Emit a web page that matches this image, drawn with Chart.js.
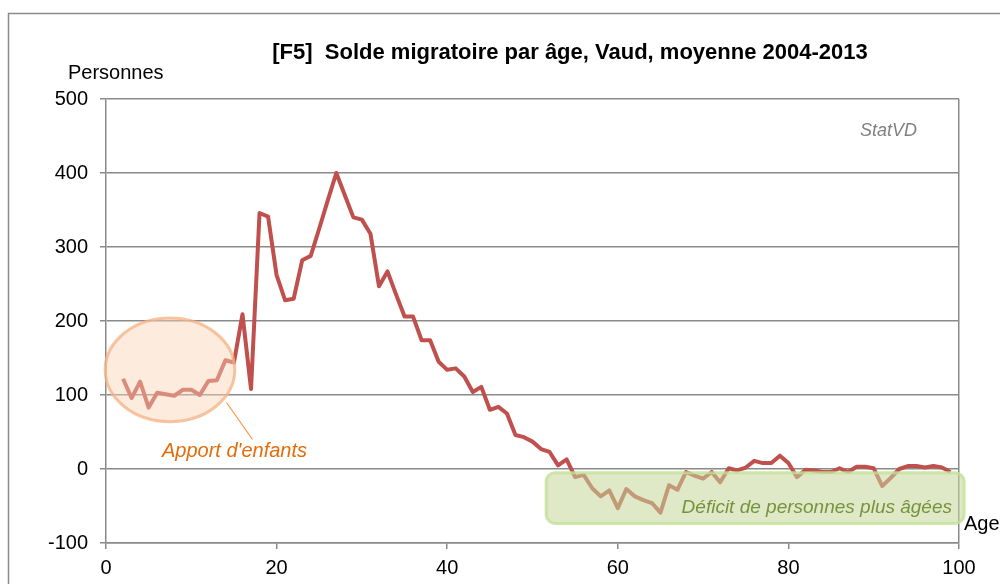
<!DOCTYPE html>
<html>
<head>
<meta charset="utf-8">
<script src="https://cdn.jsdelivr.net/npm/chart.js@4.4.1/dist/chart.umd.min.js"></script>
<style>
html, body { margin: 0; padding: 0; background: #fff; }
</style>
</head>
<body>
<canvas id="chart" width="1000" height="584"></canvas>
<script>
/* solde migratoire moyen par age, Vaud 2004-2013 */
var ages = [2, 3, 4, 5, 6, 7, 8, 9, 10, 11, 12, 13, 14, 15, 16, 17, 18, 19, 20, 21,
    22, 23, 24, 25, 26, 27, 28, 29, 30, 31, 32, 33, 34, 35, 36, 37, 38, 39, 40, 41,
    42, 43, 44, 45, 46, 47, 48, 49, 50, 51, 52, 53, 54, 55, 56, 57, 58, 59, 60, 61,
    62, 63, 64, 65, 66, 67, 68, 69, 70, 71, 72, 73, 74, 75, 76, 77, 78, 79, 80, 81,
    82, 83, 84, 85, 86, 87, 88, 89, 90, 91, 92, 93, 94, 95, 96, 97, 98, 99];
var solde = [122, 96, 118, 83, 103, 101, 99, 107, 107, 100, 119, 120, 147, 144, 209, 108, 346, 341, 262, 228,
    230, 282, 288, 325, 363, 400, 370, 340, 337, 318, 247, 267, 236, 206, 206, 174, 174, 145, 134, 136,
    125, 104, 111, 80, 84, 75, 46, 43, 37, 27, 23, 5, 13, -11, -8, -26, -37, -29, -53, -27,
    -37, -42, -46, -59, -22, -28, -4, -9, -13, -4, -18, 1, -2, 2, 11, 8, 8, 18, 8, -11,
    -1, -2, -4, -4, 1, -4, 3, 3, 1, -23, -12, 0, 4, 4, 2, 4, 2, -4];
var xTicks = [0, 20, 40, 60, 80, 100];
var yTicks = [-100, 0, 100, 200, 300, 400, 500];

var FONT = '"Liberation Sans", Arial, sans-serif';
var GRID = '#8a8a8a';

var points = ages.map(function (a, i) {
    return {x: a, y: solde[i]};
});

var decor = {
    id: 'decor',
    beforeDraw: function (chart) {
        var c = chart.ctx;
        c.save();
        c.fillStyle = '#fff';
        c.fillRect(0, 0, chart.width, chart.height);
        // outer frame
        c.strokeStyle = GRID;
        c.lineWidth = 1.5;
        c.strokeRect(8.5, 13.5, 1200, 800);

        c.fillStyle = '#000';
        c.font = 'bold 22px ' + FONT;
        c.textAlign = 'center';
        c.textBaseline = 'alphabetic';
        c.fillText('[F5]  Solde migratoire par âge, Vaud, moyenne 2004-2013', 570, 59);

        c.font = '20px ' + FONT;
        c.textAlign = 'left';
        c.fillText('Personnes', 68, 79);
        c.fillText('Age', 964, 530);

        c.fillStyle = '#808080';
        c.font = 'italic 18px ' + FONT;
        c.textAlign = 'right';
        c.fillText('StatVD', 917, 136);
        c.restore();
    },
    afterDatasetsDraw: function (chart) {
        var c = chart.ctx;
        var xs = chart.scales.x, ys = chart.scales.y;
        c.save();

        // ellipse "Apport d'enfants"
        var cx = xs.getPixelForValue(7.5), cy = ys.getPixelForValue(134);
        var rx = xs.getPixelForValue(7.5 + 7.6) - cx;
        var ry = cy - ys.getPixelForValue(134 + 70);
        c.beginPath();
        c.ellipse(cx, cy, rx, ry, 0, 0, Math.PI * 2);
        c.fillStyle = 'rgba(250, 210, 180, 0.45)';
        c.fill();
        c.lineWidth = 3;
        c.strokeStyle = 'rgba(244, 177, 131, 0.75)';
        c.stroke();

        c.beginPath();
        c.moveTo(226.5, 402.5);
        c.lineTo(252.5, 439.5);
        c.lineWidth = 1.2;
        c.strokeStyle = '#f79646';
        c.stroke();

        c.fillStyle = '#e46c0a';
        c.font = 'italic 20px ' + FONT;
        c.textAlign = 'left';
        c.fillText("Apport d'enfants", 162, 457);

        // box "Deficit"
        var x1 = xs.getPixelForValue(51.6), x2 = xs.getPixelForValue(100.6);
        var y1 = ys.getPixelForValue(-5), y2 = ys.getPixelForValue(-73.5);
        c.beginPath();
        c.roundRect(x1, y1, x2 - x1, y2 - y1, 9);
        c.fillStyle = 'rgba(196, 215, 155, 0.55)';
        c.fill();
        c.lineWidth = 3;
        c.strokeStyle = 'rgba(195, 225, 150, 0.8)';
        c.stroke();

        c.fillStyle = '#77933c';
        c.font = 'italic 19px ' + FONT;
        c.textAlign = 'right';
        c.fillText('Déficit de personnes plus âgées', 952, 513);
        c.restore();
    }
};

var config = {
    type: 'line',
    data: {
        datasets: [{
            label: 'Solde migratoire',
            data: points,
            borderColor: '#c0504d',
            borderWidth: 4,
            borderJoinStyle: 'round',
            pointRadius: 0,
            tension: 0,
            fill: false
        }]
    },
    options: {
        responsive: false,
        animation: false,
        devicePixelRatio: 1,
        layout: {
            padding: {left: 0, top: 99, right: 41, bottom: 0}
        },
        plugins: {
            legend: {display: false},
            tooltip: {enabled: false},
            title: {display: false}
        },
        scales: {
            x: {
                type: 'linear',
                min: 0,
                max: 100,
                afterBuildTicks: function (s) {
                    s.ticks = xTicks.map(function (v) { return {value: v}; });
                },
                afterFit: function (s) { s.height = 41; },
                ticks: {
                    color: '#000',
                    padding: 7,
                    maxRotation: 0,
                    font: {family: FONT, size: 20}
                },
                grid: {
                    color: function (ctx) {
                        return ctx.tick && ctx.tick.value === 100 ? GRID : 'rgba(0,0,0,0)';
                    },
                    tickColor: GRID,
                    tickLength: 6,
                    lineWidth: 1.5
                },
                border: {color: GRID, width: 1.5}
            },
            y: {
                min: -100,
                max: 500,
                afterBuildTicks: function (s) {
                    s.ticks = yTicks.map(function (v) { return {value: v}; });
                },
                afterFit: function (s) { s.width = 106; },
                ticks: {
                    color: '#000',
                    padding: 12,
                    font: {family: FONT, size: 20}
                },
                grid: {
                    color: GRID,
                    tickColor: GRID,
                    tickLength: 6,
                    lineWidth: 1.5
                },
                border: {color: GRID, width: 1.5}
            }
        }
    },
    plugins: [decor]
};

var ctx = document.getElementById('chart').getContext('2d');
var soldeChart = new Chart(ctx, config);
</script>
</body>
</html>
